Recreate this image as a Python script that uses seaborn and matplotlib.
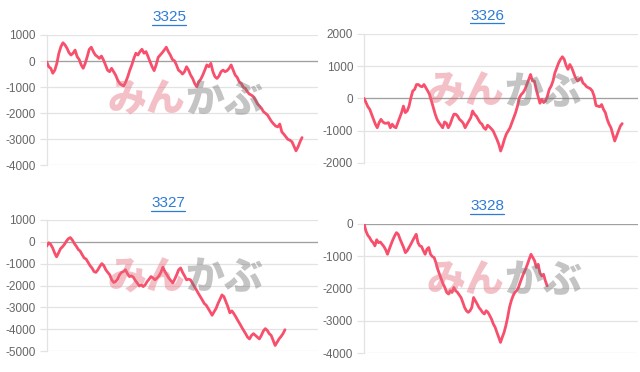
import numpy as np
import pandas as pd
import matplotlib
matplotlib.use("Agg")
import matplotlib.pyplot as plt
from matplotlib.lines import Line2D
import seaborn as sns

codes = ["3325", "3326", "3327", "3328"]

p3325 = [-30, -220, -280, -470, -350, -90, 300, 550, 700, 620, 490, 320, 230, 300, 420, 170, 60, -150,
         -280, -90, 170, 450, 530, 360, 230, 170, 100, 190, 40, -150, -350, -410, -280, -410, -540, -730,
         -860, -920, -960, -800, -600, -350, -150, 100, 300, 230, 360, 450, 300, 360, 170, -30, -220, -370,
         -150, 140, 230, 320, 420, 530, 360, 230, 60, 10, -150, -350, -410, -500, -410, -220, -350, -540,
         -670, -860, -990, -800, -700, -540, -350, -150, -220, -90, -410, -600, -670, -580, -410, -350,
         -410, -370, -280, -150, -350, -540, -630, -800, -860, -1010, -1050, -1180, -1270, -1310, -1370,
         -1500, -1650, -1730, -1820, -1950, -2010, -2080, -2210, -2330, -2420, -2500, -2530, -2420, -2720,
         -2810, -2910, -3010, -3040, -3100, -3270, -3450, -3300, -3100, -2940]

p3326 = [0, -130, -260, -340, -500, -650, -800, -910, -750, -650, -730, -770, -770, -750, -910, -800,
         -880, -910, -750, -600, -440, -240, -440, -390, -240, 20, 230, 280, 430, 430, 380, 360, 430, 330,
         230, 120, -80, -290, -490, -650, -750, -830, -910, -730, -770, -910, -800, -630, -490, -490, -550,
         -650, -700, -770, -910, -800, -700, -600, -390, -490, -550, -650, -750, -800, -910, -960, -830,
         -880, -940, -1010, -1140, -1270, -1420, -1630, -1470, -1270, -1110, -1010, -910, -750, -600, -440,
         -240, 20, 120, 180, 280, 430, 590, 740, 540, 540, 280, 70, -150, -30, -130, -80, 70, 280, 380, 540,
         790, 950, 1100, 1210, 1290, 1210, 1020, 900, 1050, 950, 790, 640, 540, 590, 640, 480, 430, 360, 330,
         300, 230, 70, -220, -240, -260, -190, -340, -440, -650, -800, -910, -1110, -1320, -1160, -1010,
         -860, -780]

p3327 = [-200, -50, -120, -280, -510, -690, -510, -320, -230, -120, 30, 140, 190, 80, -80, -200, -350,
         -430, -590, -740, -790, -940, -1090, -1200, -1360, -1400, -1280, -1120, -1000, -1090, -1280,
         -1400, -1510, -1740, -1860, -1820, -1710, -1510, -1400, -1360, -1280, -1460, -1590, -1560, -1620,
         -1770, -1890, -2020, -1970, -2050, -1970, -1820, -1710, -1590, -1660, -1740, -1660, -1560, -1400,
         -1160, -1360, -1510, -1660, -1770, -1890, -1710, -1510, -1280, -1200, -1400, -1560, -1740, -1710,
         -1740, -1890, -2050, -2200, -2360, -2510, -2660, -2820, -2900, -3050, -3200, -3360, -3200, -3050,
         -2820, -2630, -2430, -2510, -2740, -2970, -3250, -3160, -3280, -3430, -3590, -3740, -3900, -4050,
         -4200, -4360, -4440, -4280, -4200, -4280, -4360, -4440, -4280, -4080, -3970, -4050, -4200, -4280,
         -4510, -4740, -4590, -4440, -4330, -4200, -4020]

p3328 = [0, -220, -350, -420, -520, -580, -680, -490, -580, -560, -630, -700, -800, -940, -780, -630,
         -490, -370, -270, -320, -470, -600, -730, -890, -830, -730, -630, -520, -420, -320, -580, -680,
         -700, -830, -940, -780, -730, -940, -1010, -1040, -1200, -1400, -1560, -1710, -1860, -1970, -2120,
         -2170, -2070, -2120, -1970, -2070, -2120, -2200, -2280, -2430, -2590, -2690, -2740, -2690, -2590,
         -2280, -2380, -2480, -2590, -2660, -2740, -2790, -2690, -2740, -2840, -2950, -3100, -3200, -3360,
         -3510, -3670, -3510, -3360, -3150, -2890, -2590, -2380, -2230, -2120, -2070, -1970, -1810, -1660,
         -1520, -1400, -1250, -1090, -940, -1040, -1140, -1350, -1250, -1520, -1610, -1560, -1760, -1920]

series = [p3325, p3326, p3327, p3328]
yticks = [
    [-4000, -3000, -2000, -1000, 0, 1000],
    [-2000, -1000, 0, 1000, 2000],
    [-5000, -4000, -3000, -2000, -1000, 0, 1000],
    [-4000, -3000, -2000, -1000, 0],
]

# layout
rects = [
    (0.073, 0.556, 0.424, 0.350),
    (0.569, 0.562, 0.428, 0.347),
    (0.073, 0.056, 0.424, 0.353),
    (0.569, 0.051, 0.428, 0.347),
]
end_frac = [0.941, 0.942, 0.878, 0.668]
title_pos = [(0.264, 0.954), (0.761, 0.957), (0.2625, 0.454), (0.761, 0.446)]
mark_y = [0.50, 0.55, 0.56, 0.56]

sns.set_theme(style="white")
plt.rcParams['font.family'] = ['Liberation Sans', 'DejaVu Sans']

LINE = "#f74f6c"
GRID = "#e3e3e3"

fig = plt.figure(figsize=(6.4, 3.72), dpi=100)
titles = []
for i, code in enumerate(codes):
    ax = fig.add_axes(rects[i])
    vals = series[i]
    df = pd.DataFrame({"idx": np.arange(len(vals)), "value": vals})
    sns.lineplot(data=df, x="idx", y="value", ax=ax, color=LINE, linewidth=2.0, zorder=4)
    ax.set_xlim(0, (len(vals) - 1) / end_frac[i])
    ax.set_ylim(yticks[i][0], yticks[i][-1])
    ax.set_yticks(yticks[i])
    ax.set_yticklabels([str(t) for t in yticks[i]])
    ax.set_xticks([])
    ax.set_xlabel("")
    ax.set_ylabel("")
    for s in ["top", "right", "bottom"]:
        ax.spines[s].set_visible(False)
    ax.spines["left"].set_color(GRID)
    ax.spines["left"].set_linewidth(0.9)
    ax.grid(axis="y", color=GRID, linewidth=0.9, zorder=0)
    ax.axhline(0, color="#a0a0a0", linewidth=0.9, zorder=1)
    ax.tick_params(axis="y", length=5, width=0.9, color=GRID, labelcolor="#666666",
                   labelsize=8.5, pad=3, left=True)
    ax.set_axisbelow(True)
    # watermark
    ax.text(0.51, mark_y[i], "みん", transform=ax.transAxes, ha="right", va="center",
            fontsize=28, fontweight="heavy", color=(0.90, 0.42, 0.48, 0.42),
            family=["Noto Sans CJK JP", "DejaVu Sans"], zorder=5)
    ax.text(0.51, mark_y[i], "かぶ", transform=ax.transAxes, ha="left", va="center",
            fontsize=28, fontweight="heavy", color=(0.45, 0.45, 0.45, 0.42),
            family=["Noto Sans CJK JP", "DejaVu Sans"], zorder=5)
    t = fig.text(title_pos[i][0], title_pos[i][1], code, ha="center", va="center",
                 color="#2c7cd5", fontsize=11)
    titles.append(t)

fig.canvas.draw()
W, H = fig.get_size_inches() * fig.dpi
renderer = fig.canvas.get_renderer()
for t in titles:
    bb = t.get_window_extent(renderer=renderer)
    y = (bb.y0 - 0.5) / H
    fig.add_artist(Line2D([bb.x0 / W, bb.x1 / W], [y, y], transform=fig.transFigure,
                          color="#2c7cd5", linewidth=0.9))

fig.savefig("out.png", dpi=100)
